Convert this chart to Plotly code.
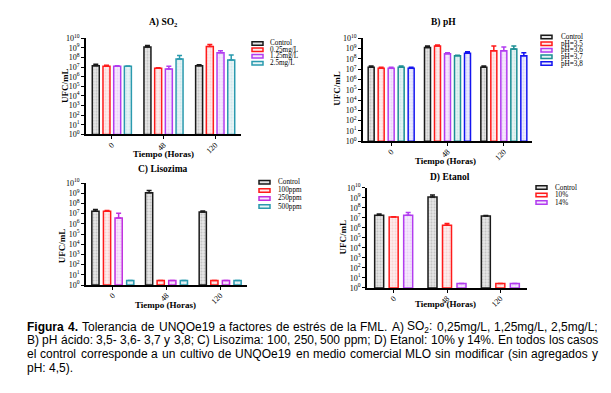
import plotly.graph_objects as go

# reference canvas and page offset (browser body margin)
W, H = 611, 393
OX, OY = 8, 8
FW, FH = W - OX, H - OY

# ---------------- data ----------------
groups = ["0", "48", "120"]

A_series = ["Control", "0.25mg/L", "1.25mg/L", "2.5mg/L"]
A_vals = [
    [1.41e7, 1.26e9, 1.41e7],
    [1.26e7, 7.9e6, 1.41e9],
    [1.26e7, 6.3e6, 3.16e8],
    [1.26e7, 7.1e7, 5.6e7],
]
A_err = [
    [0.6e7, 0.56e9, 0.37e7],
    [0.32e7, 1.0e6, 0.83e9],
    [0.15e7, 6.3e6, 1.85e8],
    [0.05e7, 8.7e7, 1.22e8],
]

B_series = ["Control", "pH=3,5", "pH=3,6", "pH=3,7", "pH=3,8"]
B_vals = [
    [1.58e7, 1.26e9, 1.58e7],
    [1.26e7, 1.78e9, 6.3e8],
    [1.26e7, 3.16e8, 6.3e8],
    [1.58e7, 2.0e8, 9.3e8],
    [1.26e7, 3.55e8, 2.0e8],
]
B_err = [
    [0.42e7, 0.52e9, 0.42e7],
    [0.32e7, 0.46e9, 1.15e9],
    [0.32e7, 0.82e8, 7.8e8],
    [0.42e7, 0.24e8, 8.5e8],
    [0.32e7, 1.45e8, 2.0e8],
]

C_series = ["Control", "100ppm", "250ppm", "500ppm"]
C_vals = [
    [1.74e7, 1.12e9, 1.48e7],
    [1.74e7, 1.8, 1.8],
    [3.7e6, 1.8, 1.8],
    [1.8, 1.8, 1.8],
]
C_err = [
    [0.77e7, 0.74e9, 0.3e7],
    [0.3e7, None, None],
    [7.5e6, None, None],
    [None, None, None],
]

D_series = ["Control", "10%", "14%"]
D_vals = [
    [1.86e7, 1.23e9, 1.51e7],
    [1.2e7, 1.86e6, 1.8],
    [1.86e7, 1.8, 1.8],
]
D_err = [
    [0.65e7, 0.72e9, 0.27e7],
    [0.12e7, 0.83e6, None],
    [1.53e7, None, None],
]

y_tickvals = [10 ** k for k in range(11)]
y_ticktext = ["10<sup>%d</sup>" % k for k in range(11)]

caption_lines = [
    [("Figura", "b"), ("4.", "b"), ("Tolerancia",), ("de",), ("UNQOe19",), ("a",), ("factores",),
     ("de",), ("estrés",), ("de",), ("la",), ("FML.",), ("A)",), ("SO", "r", "2", "sub", ":", "r"),
     ("0,25mg/L,",), ("1,25mg/L,",), ("2,5mg/L;",)],
    [("B)",), ("pH",), ("ácido:",), ("3,5-",), ("3,6-",), ("3,7",), ("y",), ("3,8;",), ("C)",),
     ("Lisozima:",), ("100,",), ("250,",), ("500",), ("ppm;",), ("D)",), ("Etanol:",), ("10%",),
     ("y",), ("14%.",), ("En",), ("todos",), ("los",), ("casos",)],
    [("el",), ("control",), ("corresponde",), ("a",), ("un",), ("cultivo",), ("de",), ("UNQOe19",),
     ("en",), ("medio",), ("comercial",), ("MLO",), ("sin",), ("modificar",), ("(sin",),
     ("agregados",), ("y",)],
    [("pH:",), ("4,5).",)],
]

# ---------------- styles ----------------
STY = {
    "black": dict(line="#1a1a1a", bg="#e6e6e6", fg="#a0a0a0"),
    "red": dict(line="#ff1a1a", bg="#fdecec", fg="#f5b8b8"),
    "purple": dict(line="#b23cf0", bg="#f5e8fc", fg="#dcb8f2"),
    "magenta": dict(line="#c02ee0", bg="#f8e6fb", fg="#e2b4f0"),
    "teal": dict(line="#2a9aae", bg="#e8f4f6", fg="#b6dce2"),
    "teal2": dict(line="#1c8f94", bg="#e6f3f3", fg="#b2dadc"),
    "blue": dict(line="#1414f0", bg="#ececfc", fg="#bcbcf6"),
}

panels = [
    dict(series=A_series, vals=A_vals, err=A_err,
         colors=["black", "red", "purple", "teal"],
         dom=(86, 241, 33, 132), slot=10.7, bw=7.0,
         title="A) SO<sub>2</sub>", title_xy=(163, 17),
         xt_xy=(163, 152), yt_xy=(65, 82),
         leg=(252, 268, [38.3, 44.9, 51.6, 58.6])),
    dict(series=B_series, vals=B_vals, err=B_err,
         colors=["black", "red", "purple", "teal2", "blue"],
         dom=(363, 532, 33, 139), slot=10.0, bw=6.0,
         title="B) pH", title_xy=(443, 17),
         xt_xy=(445, 159), yt_xy=(337, 85),
         leg=(541, 559, [31.7, 38.5, 45.3, 52.1, 59.0])),
    dict(series=C_series, vals=C_vals, err=C_err,
         colors=["black", "red", "magenta", "teal"],
         dom=(86, 247, 182, 287), slot=11.6, bw=7.2,
         title="C) Lisozima", title_xy=(163, 168),
         xt_xy=(166, 308), yt_xy=(62, 247),
         leg=(259, 276, [181.3, 189.6, 197.9, 206.2])),
    dict(series=D_series, vals=D_vals, err=D_err,
         colors=["black", "red", "purple"],
         dom=(367, 527, 187, 290), slot=14.5, bw=9.0,
         title="D) Etanol", title_xy=(450, 176),
         xt_xy=(445, 307), yt_xy=(343, 238),
         leg=(536, 553, [186.7, 194.4, 202.1])),
]

SERIF = "Liberation Serif, Times New Roman, serif"
SANS = "Liberation Sans, Arial, sans-serif"

fig = go.Figure()
annotations = []
shapes = []


def px(x):
    return (x - OX) / FW


def py(y):
    return 1 - (y - OY) / FH


for i, p in enumerate(panels):
    n = i + 1
    xa = "x" if n == 1 else "x%d" % n
    ya = "y" if n == 1 else "y%d" % n
    x0, x1, y0, y1 = p["dom"]
    catw = (x1 - x0) / 3.0
    slot = p["slot"] / catw
    bw = p["bw"] / catw
    ns = len(p["series"])
    for j, name in enumerate(p["series"]):
        st = STY[p["colors"][j]]
        off = (j - (ns - 1) / 2.0) * slot - bw / 2.0
        fig.add_trace(go.Bar(
            x=groups, y=p["vals"][j], name=name, base=1,
            xaxis=xa, yaxis=ya, width=bw, offset=off, showlegend=False,
            marker=dict(color=st["bg"],
                        line=dict(color=st["line"], width=1.5),
                        pattern=dict(shape=".", fgcolor=st["fg"], size=3, solidity=0.35)),
            error_y=dict(type="data", symmetric=False, array=p["err"][j],
                         arrayminus=[0, 0, 0], color=st["line"],
                         thickness=1.5, width=2.5),
        ))
    axx = dict(domain=[px(x0), px(x1)], anchor=ya, type="category",
               range=[-0.5, 2.5], showline=True, linecolor="black", linewidth=1.5,
               ticks="outside", ticklen=3, tickwidth=1.3, tickcolor="black",
               tickangle=-45, ticklabelstandoff=-2,
               tickfont=dict(family=SERIF, size=8, color="black"),
               showgrid=False, zeroline=False, fixedrange=True)
    axy = dict(domain=[py(y1), py(y0)], anchor=xa, type="log", range=[0, 10],
               showline=True, linecolor="black", linewidth=1.5,
               ticks="outside", ticklen=3, tickwidth=1.3, tickcolor="black",
               tickvals=y_tickvals, ticktext=y_ticktext,
               tickfont=dict(family=SERIF, size=8, color="black"),
               showgrid=False, zeroline=False, fixedrange=True)
    fig.update_layout(**{("xaxis" if n == 1 else "xaxis%d" % n): axx,
                         ("yaxis" if n == 1 else "yaxis%d" % n): axy})

    annotations.append(dict(text="<b>%s</b>" % p["title"], x=px(p["title_xy"][0]),
                            y=py(p["title_xy"][1]), xref="paper", yref="paper",
                            showarrow=False, xanchor="center", yanchor="middle",
                            font=dict(family=SERIF, size=9.5, color="black")))
    annotations.append(dict(text="<b>Tiempo (Horas)</b>", x=px(p["xt_xy"][0]),
                            y=py(p["xt_xy"][1]), xref="paper", yref="paper",
                            showarrow=False, xanchor="center", yanchor="middle",
                            font=dict(family=SERIF, size=9, color="black")))
    annotations.append(dict(text="<b>UFC/mL</b>", x=px(p["yt_xy"][0]),
                            y=py(p["yt_xy"][1]), xref="paper", yref="paper",
                            showarrow=False, xanchor="center", yanchor="middle",
                            textangle=-90,
                            font=dict(family=SERIF, size=9, color="black")))
    sx, tx, rows = p["leg"]
    for j, name in enumerate(p["series"]):
        st = STY[p["colors"][j]]
        yc = rows[j]
        shapes.append(dict(type="rect", xref="paper", yref="paper",
                           x0=px(sx), x1=px(sx + 11), y0=py(yc + 1.8), y1=py(yc - 1.8),
                           line=dict(color=st["line"], width=1.5), fillcolor=st["bg"]))
        annotations.append(dict(text=name, x=px(tx), y=py(yc), xref="paper", yref="paper",
                                showarrow=False, xanchor="left", yanchor="middle",
                                font=dict(family=SERIF, size=7.2, color="black")))

# ---------------- justified caption ----------------
AR = {" ": 278, "%": 889, "(": 333, ")": 333, ",": 278, "-": 333, ".": 278, "/": 278,
      ":": 278, ";": 278, "=": 584,
      "A": 667, "B": 667, "C": 722, "D": 722, "E": 667, "F": 611, "G": 778, "H": 722,
      "I": 278, "L": 556, "M": 833, "N": 722, "O": 778, "Q": 778, "S": 667, "T": 611, "U": 722,
      "a": 556, "b": 556, "c": 500, "d": 556, "e": 556, "f": 278, "g": 556, "h": 556,
      "i": 222, "j": 222, "k": 500, "l": 222, "m": 833, "n": 556, "o": 556, "p": 556,
      "q": 556, "r": 333, "s": 500, "t": 278, "u": 556, "v": 500, "w": 722, "x": 500,
      "y": 500, "z": 500, "á": 556, "é": 556}
ARB = dict(AR)
ARB.update({"F": 611, "i": 278, "g": 611, "u": 611, "r": 389, "a": 556})
for d in "0123456789":
    AR[d] = 556
    ARB[d] = 556

CAP_SIZE = 12.0
CAP_X0, CAP_X1 = 26, 597
CAP_Y = [330, 344, 358, 372]


def word_parts(w):
    if len(w) == 1:
        return [(w[0], "r")]
    return [(w[k], w[k + 1]) for k in range(0, len(w), 2)]


def word_width(w):
    tot = 0.0
    for txt, kind in word_parts(w):
        tbl = ARB if kind == "b" else AR
        sc = 0.7 if kind == "sub" else 1.0
        tot += sum(tbl.get(ch, 556) for ch in txt) * CAP_SIZE / 1000.0 * sc
    return tot


def word_markup(w):
    out = ""
    for txt, kind in word_parts(w):
        if kind == "b":
            out += "<b>%s</b>" % txt
        elif kind == "sub":
            out += "<sub>%s</sub>" % txt
        else:
            out += txt
    return out


space_w = 278 * CAP_SIZE / 1000.0
for li, words in enumerate(caption_lines):
    widths = [word_width(w) for w in words]
    if li < len(caption_lines) - 1:
        gap = max(space_w, (CAP_X1 - CAP_X0 - sum(widths)) / (len(words) - 1))
    else:
        gap = space_w
    x = CAP_X0
    for w, ww in zip(words, widths):
        annotations.append(dict(text=word_markup(w), x=px(x), y=py(CAP_Y[li]),
                                xref="paper", yref="paper", showarrow=False,
                                xanchor="left", yanchor="middle", borderpad=0,
                                font=dict(family=SANS, size=CAP_SIZE, color="black")))
        x += ww + gap

fig.update_layout(width=FW, height=FH, margin=dict(l=0, r=0, t=0, b=0),
                  paper_bgcolor="white", plot_bgcolor="white",
                  barmode="overlay", showlegend=False,
                  annotations=annotations, shapes=shapes)

fig.write_html("out.html")
